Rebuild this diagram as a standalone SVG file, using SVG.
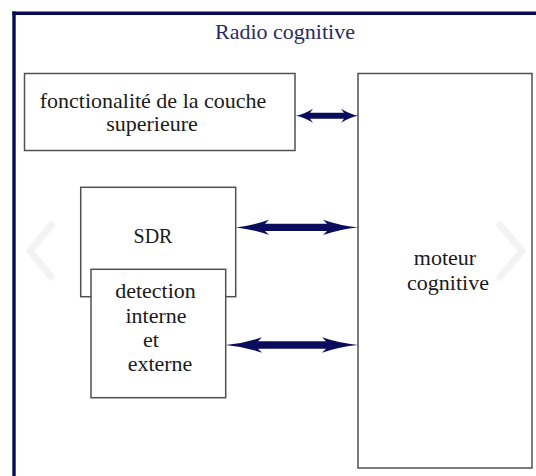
<svg xmlns="http://www.w3.org/2000/svg" width="536" height="476" viewBox="0 0 536 476">
  <style>
    .box { fill: #ffffff; stroke: #505050; stroke-width: 1.5; }
    .txt { font-family: "Liberation Serif", "Times New Roman", serif; font-size: 22px; fill: #1a1a1a; text-anchor: middle; }
    .title { font-family: "Liberation Serif", "Times New Roman", serif; font-size: 22px; fill: #2a2a66; text-anchor: middle; }
    .frame { stroke: #0b0b55; stroke-width: 3.4; fill: none; }
    .arrow { fill: #0c0c5c; }
    .chev { fill: none; stroke: #f3f3f3; stroke-width: 7; stroke-linecap: round; stroke-linejoin: round; }
  </style>
  <rect x="0" y="0" width="536" height="476" fill="#ffffff"/>
  <g id="frame">
    <line class="frame" x1="12.3" y1="13.3" x2="536" y2="13.3"/>
    <line class="frame" x1="14" y1="11.6" x2="14" y2="476"/>
    <text class="title" x="285" y="39">Radio cognitive</text>
  </g>
  <g id="couche">
    <rect class="box" x="24.5" y="73.5" width="270.5" height="77"/>
    <text class="txt" x="153" y="108">fonctionalité de la couche</text>
    <text class="txt" x="152" y="131">superieure</text>
  </g>
  <g id="moteur">
    <rect class="box" x="358" y="73.5" width="174" height="394.5"/>
    <text class="txt" x="445" y="265">moteur</text>
    <text class="txt" x="448" y="290">cognitive</text>
  </g>
  <g id="sdr">
    <rect class="box" x="80.7" y="187.3" width="155" height="109.4"/>
    <text class="txt" style="font-size:20px" x="153" y="243">SDR</text>
  </g>
  <g id="detection">
    <rect class="box" x="91" y="269.3" width="134.7" height="128.4"/>
    <text class="txt" x="155.5" y="297.5">detection</text>
    <text class="txt" x="156" y="323">interne</text>
    <text class="txt" x="151" y="346.5">et</text>
    <text class="txt" x="160" y="370.5">externe</text>
  </g>
  <g id="connectors">
    <path class="arrow" d="M296,115.8 Q304,114.3 313,108.8 L310,112.8 L344,112.8 L341,108.8 Q350,114.3 358,115.8 Q350,117.3 341,122.8 L344,118.8 L310,118.8 L313,122.8 Q304,117.3 296,115.8 Z"/>
    <path class="arrow" d="M236,227.4 Q252,225.8 269,219.8 L265,223.8 L327,223.8 L323,219.8 Q340,225.8 358,227.4 Q340,229 323,235 L327,231 L265,231 L269,235 Q252,229 236,227.4 Z"/>
    <path class="arrow" d="M225.7,345 Q244,343.4 262,337.3 L258,341.2 L326,341.2 L322,337.3 Q340,343.4 358,345 Q340,346.6 322,352.7 L326,348.8 L258,348.8 L262,352.7 Q244,346.6 225.7,345 Z"/>
  </g>
  <polyline class="chev" points="51,225 30,251 51,277"/>
  <polyline class="chev" points="500,225 522,251 500,277"/>
</svg>
